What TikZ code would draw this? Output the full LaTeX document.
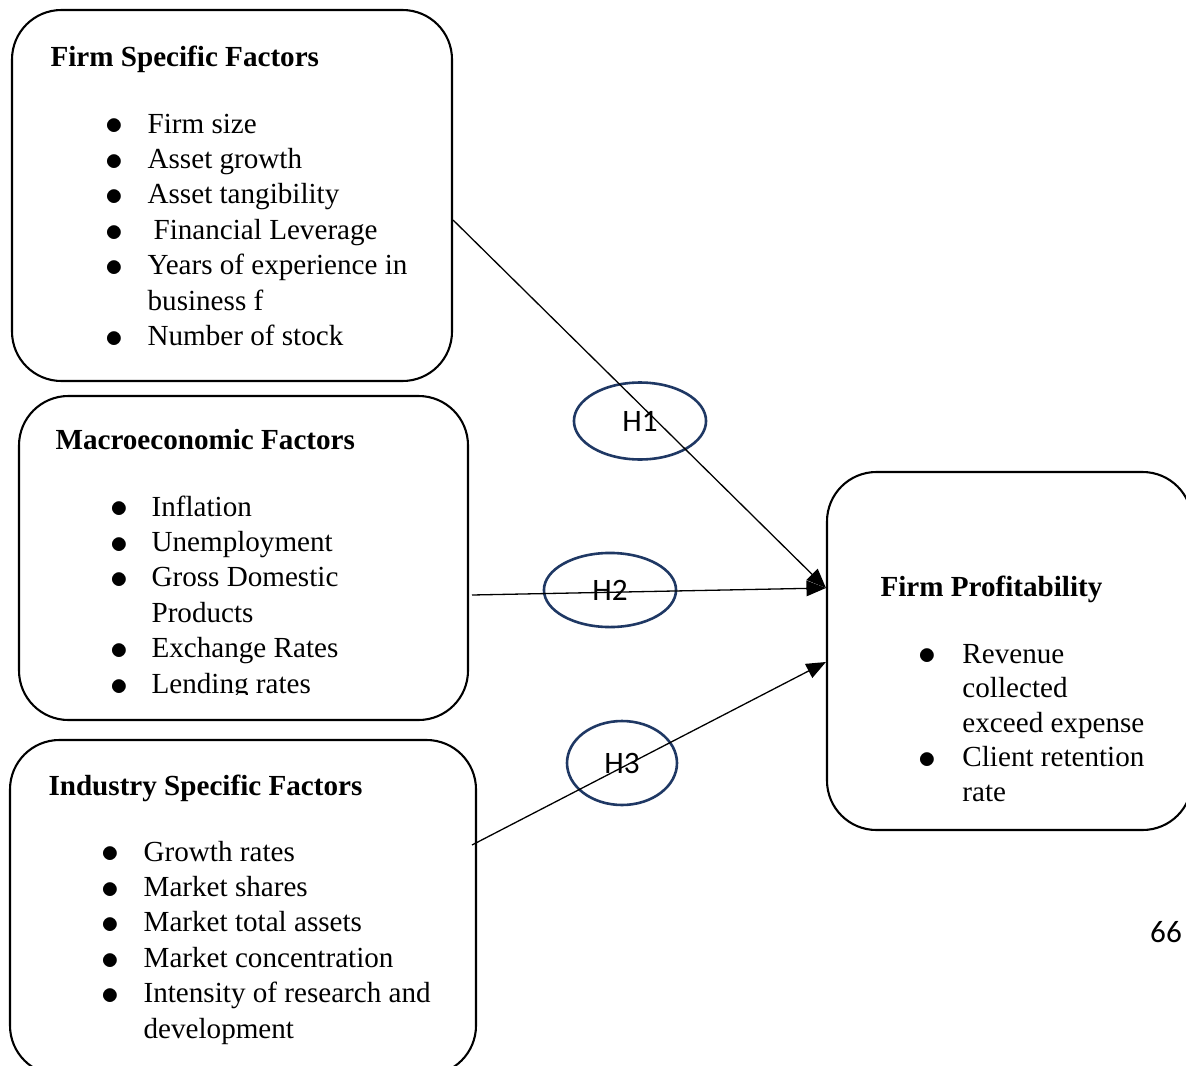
\documentclass[tikz,border=0pt]{standalone}
\usepackage{fontspec}
\setmainfont{Liberation Serif}
\newfontfamily\hfont{Carlito}
\usepackage{graphicx,xcolor}
\usetikzlibrary{arrows.meta,shapes.geometric,fit}

\definecolor{hypblue}{HTML}{1F3864}
\newcommand{\bl}{\smash{\raisebox{-0.7pt}{\scalebox{1.25}{$\bullet$}}}}
\newcommand{\listsize}{\fontsize{11.2}{13.65}\selectfont}

\tikzset{
  box/.style={draw, line width=0.8pt, rounded corners=19pt, inner sep=0pt},
  hyp/.style={draw=hypblue, line width=1pt, ellipse, inner sep=0pt,
              font=\hfont\fontsize{12}{14}\selectfont},
  link/.style={line width=0.5pt, -{Triangle[length=7.5pt,width=6pt]}},
  head/.style={anchor=base west, inner sep=0pt, font=\bfseries\listsize},
  items/.style={anchor=base west, inner sep=0pt, font=\listsize}
}

\begin{document}
\begin{tikzpicture}[x=0.3846pt,y=-0.3846pt]
\useasboundingbox (0,0) rectangle (1186,1066);
\clip (0,0) rectangle (1186,1066);

% box corners
\coordinate (f1) at (12,10);   \coordinate (f2) at (452,381);
\coordinate (m1) at (19,396);  \coordinate (m2) at (468,720);
\coordinate (i1) at (10,740);  \coordinate (i2) at (476,1075);
\coordinate (p1) at (827,472); \coordinate (p2) at (1192,830);

\node[box, fit=(f1)(f2)] (firm) {};
\node[box, fit=(m1)(m2)] (macro) {};
\node[box, fit=(i1)(i2)] (industry) {};
\node[box, fit=(p1)(p2)] (profit) {};

% headings
\node[head] (firmh) at (50,66) {Firm Specific Factors};
\node[head] (macroh) at (55,449) {Macroeconomic Factors};
\node[head] (industryh) at (48,795) {Industry Specific Factors};
\node[head] (profith) at (880,596) {Firm Profitability};

% lists
\node[items] (firml) at (105,133) {\begin{tabular}[t]{@{}p{16.2pt}@{}l@{}}
\bl & Firm size\\
\bl & Asset growth\\
\bl & Asset tangibility\\
\bl & \hspace{2.3pt}Financial Leverage\\
\bl & Years of experience in\\
    & business f\\
\bl & Number of stock
\end{tabular}};

\begin{scope}
\clip (0,0) rectangle (1186,694);
\node[items] (macrol) at (110,516) {\begin{tabular}[t]{@{}p{15.8pt}@{}l@{}}
\bl & Inflation\\
\bl & Unemployment\\
\bl & Gross Domestic\\
    & Products\\
\bl & Exchange Rates\\
\bl & Lending rates
\end{tabular}};
\end{scope}

\node[items] (industryl) at (101,861) {\begin{tabular}[t]{@{}p{16.2pt}@{}l@{}}
\bl & Growth rates\\
\bl & Market shares\\
\bl & Market total assets\\
\bl & Market concentration\\
\bl & Intensity of research and\\
    & development
\end{tabular}};

\node[items, font=\fontsize{11.2}{13.3}\selectfont] (profitl) at (918,663) {\begin{tabular}[t]{@{}p{16.9pt}@{}l@{}}
\bl & Revenue\\
    & collected\\
    & exceed expense\\
\bl & Client retention\\
    & rate
\end{tabular}};

% hypotheses
\node[hyp, minimum width=50.8pt, minimum height=29.6pt] (h1) at (640,421) {H1};
\node[hyp, minimum width=50.8pt, minimum height=28.5pt] (h2) at (610,590) {H2};
\node[hyp, minimum width=42.3pt, minimum height=32.3pt] (h3) at (622,763) {H3};

% connectors
\draw[link] (firm.east |- 0,220) -- (profit.west |- 0,588);
\draw[link] (472,595) -- (profit.west |- 0,588);
\draw[link] (472,845) -- (profit.west |- 0,662);

% page number
\node[font=\hfont\fontsize{12}{14}\selectfont, inner sep=0pt] (page) at (1166,932) {66};
\end{tikzpicture}
\end{document}
